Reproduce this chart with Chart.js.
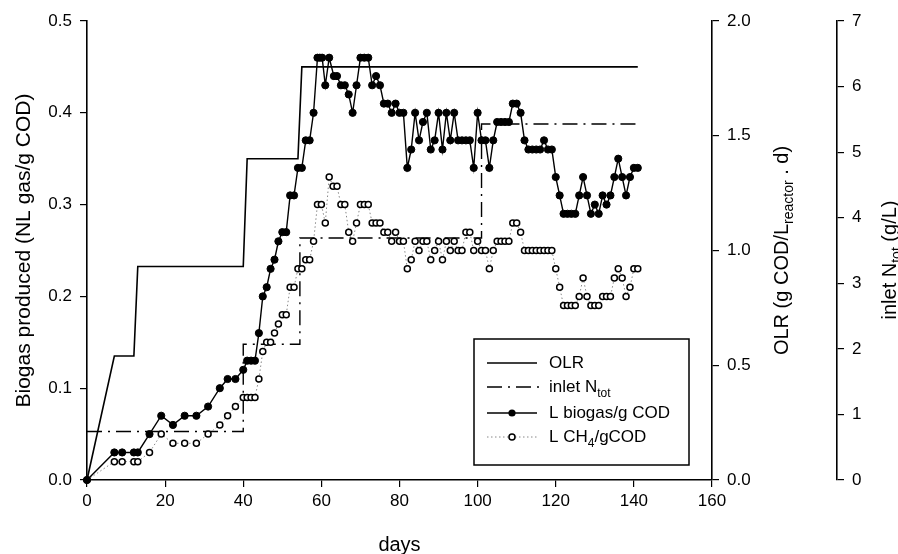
<!DOCTYPE html>
<html><head><meta charset="utf-8">
<script src="https://cdn.jsdelivr.net/npm/chart.js@4/dist/chart.umd.min.js"></script>
<style>html,body{margin:0;padding:0;background:#fff}canvas{display:block}</style>
</head><body>
<canvas id="c" width="898" height="554"></canvas>
<script>
const FONT = '"Liberation Sans", Arial, Helvetica, sans-serif';

// ---- data ----
const biogasDays = [0,7,9,12,13,16,19,22,25,28,31,34,36,38,40,41,42,43,44,45,46,47,48,49,50,51,52,53,54,55,56,57,58,59,59.6,60.2,61,62,63.2,64,65,66,67,68,69,70,71,72,73,74,75,76,77,78,79,80,81,82,83,84,85,86,87,88,89,90,91,92,93,94,95,96,97,98,99,100,101,102,103,104,105,106,107,108,109,110,111,112,113,114,115,116,117,118,119,120,121,122,123,124,125,126,127,128,129,130,131,132,133,134,135,136,137,138,139,140,141];
const biogas = [0,0.03,0.03,0.03,0.03,0.05,0.07,0.06,0.07,0.07,0.08,0.10,0.11,0.11,0.12,0.13,0.13,0.13,0.16,0.20,0.21,0.23,0.24,0.26,0.27,0.27,0.31,0.31,0.34,0.34,0.37,0.37,0.40,0.46,0.46,0.46,0.43,0.46,0.44,0.44,0.43,0.43,0.42,0.40,0.43,0.46,0.46,0.46,0.43,0.44,0.43,0.41,0.41,0.40,0.41,0.40,0.40,0.34,0.36,0.40,0.37,0.39,0.40,0.36,0.37,0.40,0.36,0.40,0.37,0.40,0.37,0.37,0.37,0.37,0.34,0.40,0.37,0.37,0.34,0.37,0.39,0.39,0.39,0.39,0.41,0.41,0.40,0.37,0.36,0.36,0.36,0.36,0.37,0.36,0.36,0.33,0.31,0.29,0.29,0.29,0.29,0.31,0.33,0.31,0.29,0.30,0.29,0.31,0.30,0.31,0.33,0.35,0.33,0.31,0.33,0.34,0.34];

const ch4Days = [0,7,9,12,13,16,19,22,25,28,31,34,36,38,40,41,42,43,44,45,46,47,48,49,50,51,52,53,54,55,56,57,58,59,60,61,62,63,64,65,66,67,68,69,70,71,72,73,74,75,76,77,78,79,80,81,82,83,84,85,86,87,88,89,90,91,92,93,94,95,96,97,98,99,100,101,102,103,104,105,106,107,108,109,110,111,112,113,114,115,116,117,118,119,120,121,122,123,124,125,126,127,128,129,130,131,132,133,134,135,136,137,138,139,140,141];
const ch4 = [0,0.02,0.02,0.02,0.02,0.03,0.05,0.04,0.04,0.04,0.05,0.06,0.07,0.08,0.09,0.09,0.09,0.09,0.11,0.14,0.15,0.15,0.16,0.17,0.18,0.18,0.21,0.21,0.23,0.23,0.24,0.24,0.26,0.30,0.30,0.28,0.33,0.32,0.32,0.30,0.30,0.27,0.26,0.28,0.30,0.30,0.30,0.28,0.28,0.28,0.27,0.27,0.26,0.27,0.26,0.26,0.23,0.24,0.26,0.25,0.26,0.26,0.24,0.25,0.26,0.24,0.26,0.25,0.26,0.25,0.25,0.27,0.27,0.25,0.26,0.25,0.25,0.23,0.25,0.26,0.26,0.26,0.26,0.28,0.28,0.27,0.25,0.25,0.25,0.25,0.25,0.25,0.25,0.25,0.23,0.21,0.19,0.19,0.19,0.19,0.20,0.22,0.20,0.19,0.19,0.19,0.20,0.20,0.20,0.22,0.23,0.22,0.20,0.21,0.23,0.23];

const olrDays = [0,7,12,13,40,41,54,55,141];
const olr = [0,0.54,0.54,0.93,0.93,1.40,1.40,1.80,1.80];

const nDays = [0,40,40,54.5,54.5,101,101,141];
const nTot = [0.74,0.74,2.07,2.07,3.69,3.69,5.43,5.43];

const xTickStep = 20;
const legendLabels = [
  [{t:'OLR'}],
  [{t:'inlet N'},{t:'tot',sub:true}],
  [{t:'L biogas/g COD'}],
  [{t:'L CH'},{t:'4',sub:true},{t:'/gCOD'}]
];
const titleLeft = [{t:'Biogas produced (NL gas/g COD)'}];
const titleOLR = [{t:'OLR (g COD/L'},{t:'reactor',sub:true},{t:' . d)'}];
const titleN = [{t:'inlet N'},{t:'tot',sub:true},{t:' (g/L)'}];
const titleX = [{t:'days'}];

const pts = (xs, ys) => xs.map((x,i)=>({x:x, y:ys[i]}));

function drawRich(ctx, parts, cx, cy, rot, size) {
  const subSize = Math.round(size*0.68);
  ctx.save();
  ctx.translate(cx, cy);
  ctx.rotate(rot);
  let total = 0;
  parts.forEach(p => { ctx.font = (p.sub?subSize:size)+'px '+FONT; p.w = ctx.measureText(p.t).width; total += p.w; });
  let x = -total/2;
  ctx.textBaseline = 'middle'; ctx.textAlign = 'left'; ctx.fillStyle = '#000';
  parts.forEach(p => { ctx.font = (p.sub?subSize:size)+'px '+FONT; ctx.fillText(p.t, x, p.sub ? size*0.38 : 0); x += p.w; });
  ctx.restore();
}
function drawRichLeft(ctx, parts, x, y, size) {
  const subSize = Math.round(size*0.68);
  ctx.save();
  ctx.textBaseline = 'middle'; ctx.textAlign = 'left'; ctx.fillStyle = '#000';
  parts.forEach(p => { ctx.font = (p.sub?subSize:size)+'px '+FONT; ctx.fillText(p.t, x, p.sub ? y+size*0.38 : y); x += ctx.measureText(p.t).width; });
  ctx.restore();
}

const extras = {
  id: 'extras',
  afterDraw(chart) {
    const ctx = chart.ctx;
    const a = chart.chartArea;
    // axis titles
    drawRich(ctx, titleLeft, 24, (a.top+a.bottom)/2, -Math.PI/2, 21);
    drawRich(ctx, titleX, (a.left+a.right)/2, 545, 0, 20);
    drawRich(ctx, titleOLR, 782, (a.top+a.bottom)/2, -Math.PI/2, 20);
    drawRich(ctx, titleN, 890, 260, -Math.PI/2, 20);
    // legend box
    ctx.save();
    ctx.strokeStyle = '#000'; ctx.lineWidth = 1.5;
    ctx.strokeRect(474, 339, 215, 126);
    const rows = [363, 387, 413, 437];
    const x0 = 487, x1 = 537, xm = 512;
    // OLR
    ctx.beginPath(); ctx.lineWidth = 1.5; ctx.setLineDash([]); ctx.moveTo(x0, rows[0]); ctx.lineTo(x1, rows[0]); ctx.stroke();
    // inlet N
    ctx.beginPath(); ctx.lineWidth = 1.4; ctx.setLineDash([15,6,2,6]); ctx.moveTo(x0, rows[1]); ctx.lineTo(x1+6, rows[1]); ctx.stroke();
    // biogas
    ctx.setLineDash([]);
    ctx.beginPath(); ctx.lineWidth = 1.4; ctx.moveTo(x0, rows[2]); ctx.lineTo(x1, rows[2]); ctx.stroke();
    ctx.beginPath(); ctx.fillStyle = '#000'; ctx.arc(xm, rows[2], 3.6, 0, Math.PI*2); ctx.fill();
    // ch4
    ctx.beginPath(); ctx.strokeStyle = '#888'; ctx.lineWidth = 1; ctx.setLineDash([1.5,2.5]); ctx.moveTo(x0, rows[3]); ctx.lineTo(x1, rows[3]); ctx.stroke();
    ctx.setLineDash([]);
    ctx.beginPath(); ctx.fillStyle = '#fff'; ctx.strokeStyle = '#000'; ctx.lineWidth = 1.5; ctx.arc(xm, rows[3], 3.0, 0, Math.PI*2); ctx.fill(); ctx.stroke();
    ctx.restore();
    legendLabels.forEach((parts, i) => drawRichLeft(ctx, parts, 549, rows[i], 17));
  }
};

const tickFont = {family: FONT, size: 17};
const gridOpts = {drawOnChartArea: false, drawTicks: true, tickLength: 7, color: '#000', lineWidth: 1.2};
const borderOpts = {display: true, color: '#000', width: 1.6};

new Chart(document.getElementById('c'), {
  type: 'line',
  data: {
    datasets: [
      {label: 'L biogas/g COD', data: pts(biogasDays, biogas), yAxisID: 'y', order: 1,
       borderColor: '#000', borderWidth: 1.4, pointRadius: 3.6, pointBackgroundColor: '#000', pointBorderColor: '#000', pointBorderWidth: 1, clip: false},
      {label: 'L CH4/gCOD', data: pts(ch4Days, ch4), yAxisID: 'y', order: 2,
       borderColor: '#888', borderWidth: 1, borderDash: [1.5,2.5], pointRadius: 3.0, pointBackgroundColor: '#fff', pointBorderColor: '#000', pointBorderWidth: 1.5, clip: false},
      {label: 'OLR', data: pts(olrDays, olr), yAxisID: 'y1', order: 3,
       borderColor: '#000', borderWidth: 1.6, pointRadius: 0, clip: false},
      {label: 'inlet Ntot', data: pts(nDays, nTot), yAxisID: 'y2', order: 4,
       borderColor: '#000', borderWidth: 1.4, borderDash: [15,6,2,6], pointRadius: 0, clip: false}
    ]
  },
  options: {
    responsive: false, devicePixelRatio: 1, animation: false,
    layout: {padding: {left: 0, right: 0, top: 21, bottom: 0}},
    plugins: {legend: {display: false}, tooltip: {enabled: false}},
    elements: {line: {tension: 0}},
    scales: {
      x: {type: 'linear', position: 'bottom', min: 0, max: 160,
          ticks: {stepSize: xTickStep, color: '#000', font: tickFont, padding: 4},
          grid: gridOpts, border: borderOpts,
          afterFit: s => { s.height = 74; }},
      y: {type: 'linear', position: 'left', min: 0, max: 0.5,
          ticks: {stepSize: 0.1, color: '#000', font: tickFont, padding: 8, callback: v => v.toFixed(1)},
          grid: gridOpts, border: borderOpts,
          afterFit: s => { s.width = 87; }},
      y1: {type: 'linear', position: 'right', weight: 0, min: 0, max: 2,
          ticks: {stepSize: 0.5, color: '#000', font: tickFont, padding: 8, callback: v => v.toFixed(1)},
          grid: gridOpts, border: borderOpts,
          afterFit: s => { s.width = 125; }},
      y2: {type: 'linear', position: 'right', weight: 1, min: 0, max: 7,
          ticks: {stepSize: 1, color: '#000', font: tickFont, padding: 8},
          grid: gridOpts, border: borderOpts,
          afterFit: s => { s.width = 61; }}
    }
  },
  plugins: [extras]
});
</script>
</body></html>
